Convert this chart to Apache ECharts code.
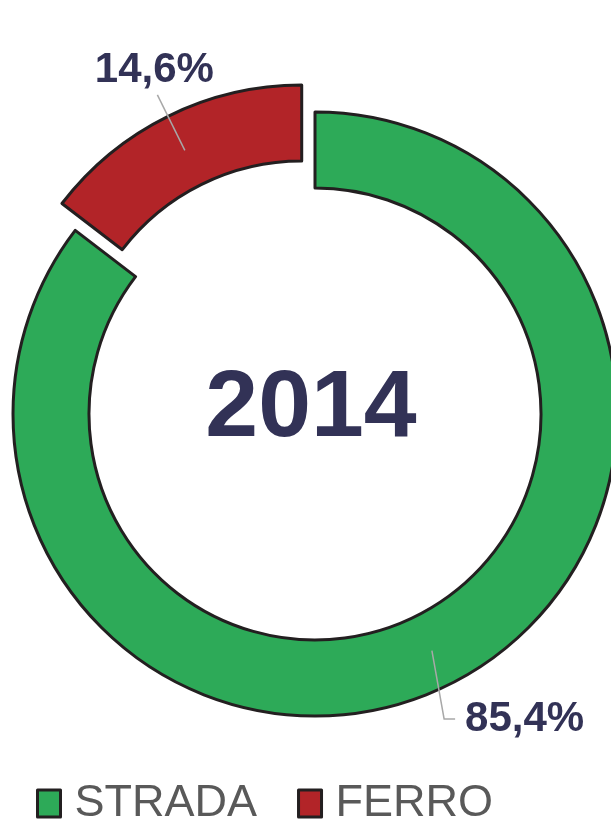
<!DOCTYPE html>
<html>
<head>
<meta charset="utf-8">
<script src="https://cdn.jsdelivr.net/npm/echarts@6/dist/echarts.min.js"></script>
<style>
  html, body { margin: 0; padding: 0; background: #fff; }
  #chart { width: 611px; height: 825px; }
</style>
</head>
<body>
<div id="chart"></div>
<script>
// dati
const categories = ['STRADA', 'FERRO'];
const shares = [85.4, 14.6];
const sliceColors = ['#2daa58', '#b22428'];
const yearLabel = '2014';

const navy = '#323256';
const outline = '#231f20';

const chart = echarts.init(document.getElementById('chart'));

const pieData = categories.map((name, i) => ({
  name: name,
  value: shares[i],
  selected: i === 1, // FERRO staccato
  itemStyle: { color: sliceColors[i] }
}));

chart.setOption({
  animation: false,
  legend: {
    data: categories,
    left: 31,
    top: 776,
    itemWidth: 23,
    itemHeight: 27,
    itemGap: 40,
    icon: 'rect',
    itemStyle: { borderColor: outline, borderWidth: 3 },
    textStyle: { fontFamily: 'Liberation Sans', fontSize: 45, color: '#595959', padding: [0, 0, 0, 9] }
  },
  graphic: [{
    type: 'text',
    x: 311,
    y: 410,
    style: {
      text: yearLabel,
      align: 'center',
      verticalAlign: 'middle',
      font: 'bold 95px "Liberation Sans"',
      fill: navy
    }
  }],
  series: [
    {
      // anello
      type: 'pie',
      center: [315, 414],
      radius: [226, 302],
      startAngle: 90,
      clockwise: true,
      selectedMode: 'single',
      selectedOffset: 30,
      silent: true,
      z: 2,
      label: { show: false },
      labelLine: { show: false },
      itemStyle: { borderColor: outline, borderWidth: 3 },
      emphasis: { disabled: true },
      data: pieData
    },
    {
      // solo etichette, linee che partono da metà anello
      type: 'pie',
      center: [315, 414],
      radius: [0, 264],
      startAngle: 90,
      clockwise: true,
      selectedMode: 'single',
      selectedOffset: 30,
      silent: true,
      z: 3,
      avoidLabelOverlap: false,
      itemStyle: { color: 'rgba(0,0,0,0)', borderWidth: 0 },
      emphasis: { disabled: true },
      label: {
        show: true,
        position: 'outside',
        formatter: p => String(p.value).replace('.', ',') + '%',
        fontFamily: 'Liberation Sans',
        fontWeight: 'bold',
        fontSize: 42,
        color: navy
      },
      labelLine: {
        show: true,
        length: 66,
        length2: 11,
        lineStyle: { color: '#a8a8a8', width: 1.5 }
      },
      labelLayout: function (params) {
        if (params.dataIndex === 1) {
          return { align: 'center', verticalAlign: 'bottom', dx: 2, dy: -3 };
        }
        // piega della linea più in basso, come nell'originale
        const pts = params.labelLinePoints;
        if (!pts) return { dx: -12, dy: 10 };
        return {
          dx: -12,
          dy: 10,
          labelLinePoints: [
            pts[0],
            [pts[1][0] - 17, pts[1][1] + 9],
            [pts[2][0] - 17, pts[2][1] + 9]
          ]
        };
      },
      data: categories.map((name, i) => ({
        name: name,
        value: shares[i],
        selected: i === 1,
        labelLine: i === 1 ? { length: 62, length2: 0 } : undefined
      }))
    }
  ]
});
</script>
</body>
</html>
